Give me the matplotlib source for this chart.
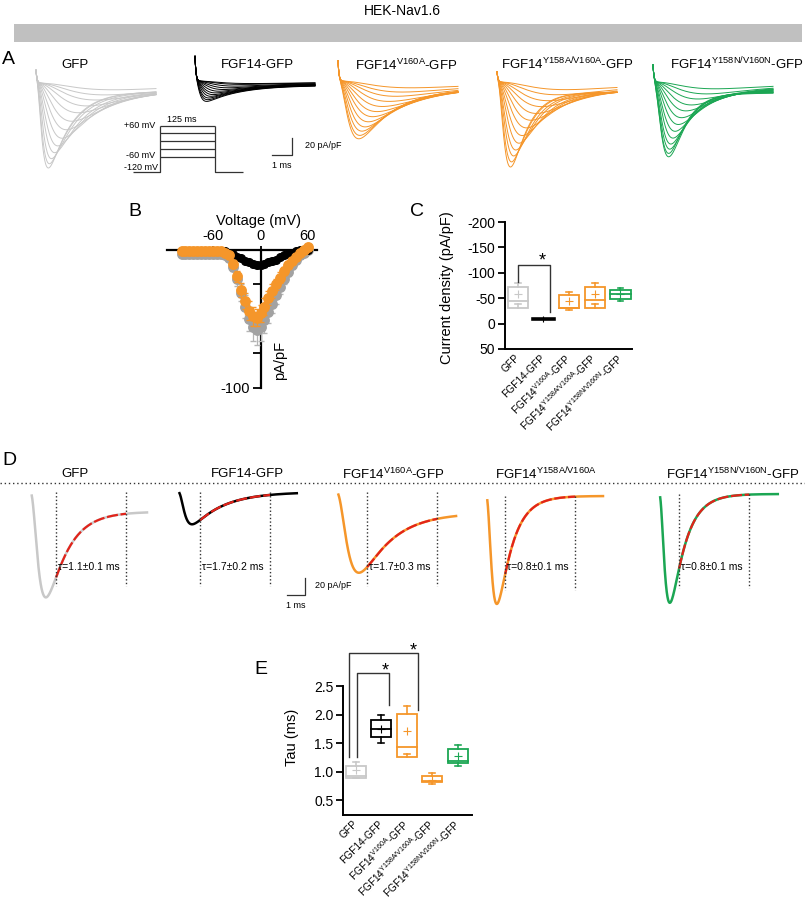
import numpy as np
import matplotlib
matplotlib.use('Agg')
import matplotlib.pyplot as plt
from matplotlib.patches import Rectangle
from matplotlib.lines import Line2D

plt.rcParams['font.family'] = ['Liberation Sans', 'DejaVu Sans']
plt.rcParams['mathtext.fontset'] = 'custom'
plt.rcParams['mathtext.rm'] = 'Liberation Sans'
plt.rcParams['mathtext.it'] = 'Liberation Sans:italic'
plt.rcParams['mathtext.bf'] = 'Liberation Sans:bold'
plt.rcParams['axes.unicode_minus'] = False

# ======================= DATA =======================
title = 'HEK-Nav1.6'
groups = ['GFP', 'FGF14-GFP', r'FGF14$^{\mathrm{V160A}}$-GFP',
          r'FGF14$^{\mathrm{Y158A/V160A}}$-GFP', r'FGF14$^{\mathrm{Y158N/V160N}}$-GFP']
D_titles = ['GFP', 'FGF14-GFP', r'FGF14$^{\mathrm{V160A}}$-GFP',
            r'FGF14$^{\mathrm{Y158A/V160A}}$', r'FGF14$^{\mathrm{Y158N/V160N}}$-GFP']

# Panel A: representative current families (peak pA/pF and time-to-peak ms per sweep)
A_peak_gfp = [100, 95, 89, 82, 74, 65, 55, 45, 35, 27, 20, 14, 8]
A_ttp_gfp = [0.6, 0.65, 0.75, 0.9, 1.05, 1.25, 1.45, 1.7, 2.0, 2.4, 2.8, 3.2, 3.6]
A_peak_fgf14 = [24, 22, 20, 18, 16, 14, 12, 10, 8, 6, 4, 3]
A_ttp_fgf14 = [0.55, 0.6, 0.65, 0.75, 0.85, 0.95, 1.1, 1.3, 1.5, 1.8, 2.1, 2.5]
A_peak_v160a = [68, 64, 59, 54, 48, 42, 36, 30, 24, 18, 13, 8]
A_ttp_v160a = [1.0, 1.05, 1.15, 1.3, 1.45, 1.65, 1.85, 2.1, 2.4, 2.7, 3.0, 3.4]
A_peak_y158a = [100, 94, 87, 80, 72, 63, 54, 45, 37, 29, 22, 15, 9]
A_ttp_y158a = [0.65, 0.7, 0.8, 0.9, 1.05, 1.2, 1.4, 1.6, 1.85, 2.1, 2.4, 2.8, 3.2]
A_peak_y158n = [88, 84, 79, 73, 66, 58, 50, 42, 34, 27, 20, 14, 8]
A_ttp_y158n = [0.75, 0.75, 0.8, 0.85, 0.95, 1.05, 1.2, 1.35, 1.55, 1.8, 2.1, 2.5, 2.9]
A_tau = [1.1, 1.7, 1.7, 0.8, 0.8]
A_transient = [15, 29, 24, 12, 20]
A_persist = [0.05, 0.15, 0.06, 0.04, 0.04]

# voltage protocol
step_voltages = [-60, -30, 0, 30, 60]
holding_mV = -120
step_label = '125 ms'

# Panel B: I-V relationships (mean, SEM)
V = [-100, -95, -90, -85, -80, -75, -70, -65, -60, -55, -50, -45, -40, -35, -30, -25,
     -20, -15, -10, -5, 0, 5, 10, 15, 20, 25, 30, 35, 40, 45, 50, 55, 60]
I_gfp = [-3, -3, -3, -3, -3, -3, -3, -3, -3, -3, -3, -4, -6, -12, -21, -31,
         -41, -50, -56, -58, -56, -51, -45, -39, -33, -27, -21, -16, -11, -7, -4, -2, 0]
sem_gfp = [1, 1, 1, 1, 1, 1, 1, 1, 1, 1, 1, 1, 2, 3, 5, 6,
           8, 9, 10, 11, 10, 9, 8, 7, 6, 5, 4, 3, 3, 2, 2, 1, 1]
I_fgf14 = [-1, -1, -1, -1, -1, -1, -1, -1, -1, -1, -1, -1, -2, -3, -5, -6,
           -8, -9, -10, -11, -11, -10, -9, -8, -7, -5, -4, -3, -2, -1, 0, 0, 0]
sem_fgf14 = [0.5] * 12 + [1, 1, 1, 1.5, 1.5, 2, 2, 2, 2, 2, 2, 2, 1.5, 1.5, 1, 1, 1, 1, 0.5, 0.5, 0.5]
I_mut = [-1, -1, -1, -1, -1, -1, -1, -1, -1, -1, -1, -2, -4, -10, -19, -29,
         -37, -44, -48, -49, -46, -41, -35, -30, -25, -20, -15, -11, -8, -5, -2, 0, 2]
sem_mut = [1, 1, 1, 1, 1, 1, 1, 1, 1, 1, 1, 1, 2, 3, 4, 5,
           6, 7, 7, 6, 6, 6, 5, 5, 4, 4, 3, 3, 2, 2, 2, 1, 1]

# Panel C: current density box stats (pA/pF)
C_lo = [-38, -9, -26, -39, -45]
C_q1 = [-31, -9, -31, -31, -49]
C_med = [-45, -10, -31, -46, -59]
C_q3 = [-72, -11, -57, -73, -67]
C_hi = [-80, -11, -63, -80, -71]
C_mean = [-59, -10, -44, -59, -59]

# Panel D: representative traces with single-exponential fits
D_peak = [124, 38, 95, 127, 128]
D_ttp = [0.83, 0.78, 1.17, 0.6, 0.6]
D_tau = [1.1, 1.7, 1.7, 0.8, 0.8]
D_persist = [0.07, 0.0, 0.11, 0.0, 0.0]
D_fit_start = [1.44, 1.22, 1.72, 1.06, 1.11]
D_fit_len = 3.9
D_duration = [6.5, 6.6, 6.67, 6.5, 6.6]
D_tau_labels = ['τ=1.1±0.1 ms', 'τ=1.7±0.2 ms', 'τ=1.7±0.3 ms', 'τ=0.8±0.1 ms', 'τ=0.8±0.1 ms']

# Panel E: tau box stats (ms)
E_lo = [0.88, 1.50, 1.31, 0.79, 1.09]
E_q1 = [0.88, 1.60, 1.25, 0.82, 1.15]
E_med = [0.93, 1.74, 1.44, 0.83, 1.19]
E_q3 = [1.10, 1.91, 2.01, 0.93, 1.40]
E_hi = [1.16, 2.00, 2.15, 0.97, 1.46]
E_mean = [1.02, 1.75, 1.72, 0.86, 1.27]

# ======================= STYLE =======================
c_gray = '#c8c8c8'
c_grayB = '#a2a2a2'
c_orange = '#f5962a'
c_green = '#1ba653'
c_red = '#e2231a'
grp_colors = [c_gray, 'black', c_orange, c_orange, c_green]

W, H = 805, 899
fig = plt.figure(figsize=(W / 100, H / 100), dpi=100)


def rect(x0, y0, x1, y1):
    return [x0 / W, 1 - y1 / H, (x1 - x0) / W, (y1 - y0) / H]


def ftext(x, y, s, **kw):
    kw.setdefault('ha', 'center')
    kw.setdefault('va', 'center')
    fig.text(x / W, 1 - y / H, s, **kw)


def px_axes(ox, oy, sx, sy, left, right, up, down):
    ax = fig.add_axes(rect(ox - left, oy - up, ox + right, oy + down))
    ax.set_xlim(-left / sx, right / sx)
    ax.set_ylim(-down / sy, up / sy)
    ax.axis('off')
    return ax


def solve_tm(ttp, th):
    lo, hi = 1e-4, ttp
    for _ in range(80):
        mid = 0.5 * (lo + hi)
        if mid * np.log(1 + 3 * th / mid) < ttp:
            lo = mid
        else:
            hi = mid
    return 0.5 * (lo + hi)


def na_current(t, peak, ttp, th, persist=0.0):
    tm = solve_tm(ttp, th)
    f = (1 - np.exp(-t / tm)) ** 3 * ((1 - persist) * np.exp(-t / th) + persist)
    return -peak * f / f.max()


# ---- header ----
ftext(402, 11, title, fontsize=10)
fig.add_artist(Rectangle((14 / W, 1 - 42 / H), (802 - 14) / W, 18 / H,
                         transform=fig.transFigure, color='#c0c0c0', lw=0))

# ---- panel labels ----
for lab, (x, y) in zip('ABCDE', [(2, 59), (128, 212), (410, 212), (2, 461), (254, 670)]):
    ftext(x, y, lab, fontsize=14, ha='left')

TFS = 9.5  # trace-title font size

# ======================= PANEL A =======================
A_peaks = [A_peak_gfp, A_peak_fgf14, A_peak_v160a, A_peak_y158a, A_peak_y158n]
A_ttps = [A_ttp_gfp, A_ttp_fgf14, A_ttp_v160a, A_ttp_y158a, A_ttp_y158n]
A_origin = [(36, 83), (195, 81), (338, 81), (497, 82), (653, 82)]
A_title_pos = [(75, 65), (257, 65), (406, 65), (567, 64), (737, 64)]
sxA, syA = 20.0, 0.85
tA = np.linspace(0, 6.0, 700)
for g in range(5):
    ox, oy = A_origin[g]
    ax = px_axes(ox, oy, sxA, syA, 4, 124, 30, 95)
    ttp0 = A_ttps[g][0]
    for pk, tp in zip(A_peaks[g], A_ttps[g]):
        th = A_tau[g] + 0.7 * (tp - ttp0)
        y = na_current(tA, pk, tp, th, A_persist[g]) + A_transient[g] * np.exp(-tA / 0.05)
        ax.plot(tA, y, color=grp_colors[g], lw=0.7)
    ftext(*A_title_pos[g], groups[g], fontsize=TFS)

# voltage protocol (schematic): pulse 0..1, pre/post 0.5 units
axP = px_axes(160, 172, 55.0, 0.257, 30, 85, 50, 4)
axP.set_ylim(-4 / 0.257 + holding_mV, 50 / 0.257 + holding_mV)
kw = dict(color='#333333', lw=0.9, solid_capstyle='butt')
for v in step_voltages:
    axP.plot([0, 1], [v, v], **kw)
axP.plot([-0.5, 0, 0], [holding_mV, holding_mV, max(step_voltages)], **kw)
axP.plot([1, 1, 1.5], [max(step_voltages), holding_mV, holding_mV], **kw)
ftext(155, 126, '+60 mV', fontsize=6.5, ha='right')
ftext(155, 155, '-60 mV', fontsize=6.5, ha='right')
ftext(158, 167, '-120 mV', fontsize=6.5, ha='right')
ftext(182, 119, step_label, fontsize=6.5)

# scale bar A
axS = px_axes(292, 155, sxA, syA, 25, 5, 22, 5)
axS.plot([-1, 0, 0], [0, 0, 20], color='#333333', lw=0.9)
ftext(305, 146, '20 pA/pF', fontsize=6.5, ha='left')
ftext(282, 165, '1 ms', fontsize=6.5)

# ======================= PANEL B =======================
axB = fig.add_axes(rect(167, 240, 317, 392))
axB.set_xlim(-118.4, 71.5)
axB.set_ylim(-102.9, 7.2)
for sp in ['right', 'bottom']:
    axB.spines[sp].set_visible(False)
axB.spines['top'].set_position(('data', 0))
axB.spines['left'].set_position(('data', 0))
axB.spines['left'].set_bounds(-100, 0)
for sp in ['top', 'left']:
    axB.spines[sp].set_linewidth(1.6)
axB.xaxis.set_ticks_position('top')
axB.set_xticks([-60, 0, 60])
axB.set_xticklabels(['-60', '0', '60'])
axB.set_yticks([-100, -75, -50, -25])
axB.set_yticklabels(['-100', '', '', ''])
axB.tick_params(axis='both', labelsize=10.5, width=1.3, length=6, pad=2)
axB.tick_params(axis='x', length=3)
axB.patch.set_visible(False)
axB.errorbar(V, I_gfp, yerr=sem_gfp, fmt='o', color=c_grayB, ms=6.8, mec=c_grayB,
             ecolor='#b5b5b5', elinewidth=0.9, capsize=2.5, zorder=3, clip_on=False)
axB.errorbar(V, I_fgf14, yerr=sem_fgf14, fmt='o-', color='black', ms=5.5, lw=1,
             elinewidth=0.9, capsize=2, zorder=4, clip_on=False)
axB.errorbar(V, I_mut, yerr=sem_mut, fmt='o', color=c_orange, ms=6.8, mec=c_orange,
             ecolor=c_orange, elinewidth=0.9, capsize=2.5, zorder=5, clip_on=False)
ftext(258, 221, 'Voltage (mV)', fontsize=10.5)
ftext(280, 360, 'pA/pF', fontsize=10.5, rotation=90)


# ======================= box helpers =======================
def draw_box(ax, x, lo, q1, med, q3, hi, mean, color, w=0.8, cap=0.22, lw=1.2):
    ax.add_patch(Rectangle((x - w / 2, min(q1, q3)), w, abs(q3 - q1), fill=False,
                           ec=color, lw=lw))
    ax.plot([x - w / 2, x + w / 2], [med, med], color=color, lw=lw)
    ax.plot([x, x], [q3, hi], color=color, lw=lw * 0.9)
    ax.plot([x, x], [q1, lo], color=color, lw=lw * 0.9)
    ax.plot([x - cap / 2, x + cap / 2], [hi, hi], color=color, lw=lw * 0.9)
    ax.plot([x - cap / 2, x + cap / 2], [lo, lo], color=color, lw=lw * 0.9)
    ax.plot([x], [mean], marker='+', color=color, ms=6, mew=0.8)


def style_box_axes(ax, labels):
    for sp in ['top', 'right']:
        ax.spines[sp].set_visible(False)
    for sp in ['left', 'bottom']:
        ax.spines[sp].set_linewidth(1.4)
    ax.set_xticks(range(len(labels)))
    ax.set_xticklabels(labels, rotation=45, ha='right', va='center',
                       rotation_mode='anchor', fontsize=7.3)
    ax.tick_params(axis='x', length=0, pad=5)
    ax.tick_params(axis='y', labelsize=10, width=1.3, length=5, pad=2)
    ax.patch.set_visible(False)


# ======================= PANEL C =======================
axC = fig.add_axes(rect(505, 222, 632, 349))
axC.set_xlim(-0.5, 4.45)
axC.set_ylim(50, -200)
axC.set_yticks([-200, -150, -100, -50, 0, 50])
style_box_axes(axC, groups)
for i in range(5):
    if i == 1:
        axC.plot([i - 0.4, i + 0.4], [C_med[i], C_med[i]], color='black', lw=2.6)
        axC.plot([i], [C_mean[i]], marker='+', color='black', ms=5, mew=0.8)
    else:
        draw_box(axC, i, C_lo[i], C_q1[i], C_med[i], C_q3[i], C_hi[i], C_mean[i],
                 grp_colors[i], lw=1.3)
axC.plot([0, 0, 1.25, 1.25], [-82, -116, -116, -22], color='#333333', lw=1, clip_on=False)
axC.text(0.97, -124, '*', fontsize=13, ha='center', va='center')
ftext(447, 288, 'Current density (pA/pF)', fontsize=10.5, rotation=90)

# ======================= PANEL D =======================
fig.add_artist(Line2D([0, 1], [1 - 483 / H, 1 - 483 / H], transform=fig.transFigure,
                      ls=(0, (1, 2)), color='#333333', lw=1))
D_origin = [(30, 492), (178, 492), (336, 492), (486, 496), (659, 494)]
D_title_pos = [(75, 474), (247, 474), (393, 474), (546, 474), (733, 474)]
sxD, syD = 18.0, 0.85
for g in range(5):
    ox, oy = D_origin[g]
    ax = px_axes(ox, oy, sxD, syD, 4, 126, 14, 118)
    t = np.linspace(0, D_duration[g], 800)
    y = na_current(t, D_peak[g], D_ttp[g], D_tau[g], D_persist[g])
    start = np.argmax(np.abs(y) > 0.03 * D_peak[g])
    ax.plot(t[start:], y[start:], color=grp_colors[g], lw=1.8)
    t1 = D_fit_start[g]
    t2 = t1 + D_fit_len
    m = (t >= t1) & (t <= t2)
    ax.plot(t[m], y[m], color=c_red, lw=1.6, ls=(0, (5, 1.2)))
    for tv in (t1, t2):
        ax.plot([tv, tv], [0, -94 / syD], color='#333333', lw=1, ls=(0, (1, 1.6)))
    ax.text(t1 + 0.12, -(567 - oy) / syD, D_tau_labels[g], fontsize=7.5,
            ha='left', va='center')
    ftext(*D_title_pos[g], D_titles[g], fontsize=TFS)

axSD = px_axes(305, 595, sxD, syD, 22, 5, 22, 5)
axSD.plot([-1, 0, 0], [0, 0, 20], color='#333333', lw=0.9)
ftext(315, 586, '20 pA/pF', fontsize=6.5, ha='left')
ftext(296, 605, '1 ms', fontsize=6.5)

# ======================= PANEL E =======================
axE = fig.add_axes(rect(343, 686, 472, 815))
axE.set_xlim(-0.5, 4.56)
axE.set_ylim(0.24, 2.5)
axE.set_yticks([0.5, 1.0, 1.5, 2.0, 2.5])
axE.set_yticklabels(['0.5', '1.0', '1.5', '2.0', '2.5'])
style_box_axes(axE, groups)
for i in range(5):
    draw_box(axE, i, E_lo[i], E_q1[i], E_med[i], E_q3[i], E_hi[i], E_mean[i],
             grp_colors[i], lw=1.3)
axE.plot([-0.27, -0.27, 2.45, 2.45], [1.26, 3.08, 3.08, 2.08], color='#333333', lw=1,
         clip_on=False)
axE.plot([0.04, 0.04, 1.3, 1.3], [1.26, 2.73, 2.73, 2.17], color='#333333', lw=1,
         clip_on=False)
axE.text(2.24, 3.12, '*', fontsize=13, ha='center', va='center')
axE.text(1.14, 2.77, '*', fontsize=13, ha='center', va='center')
ftext(292, 737, 'Tau (ms)', fontsize=10.5, rotation=90)

fig.savefig('out.png', dpi=100)
